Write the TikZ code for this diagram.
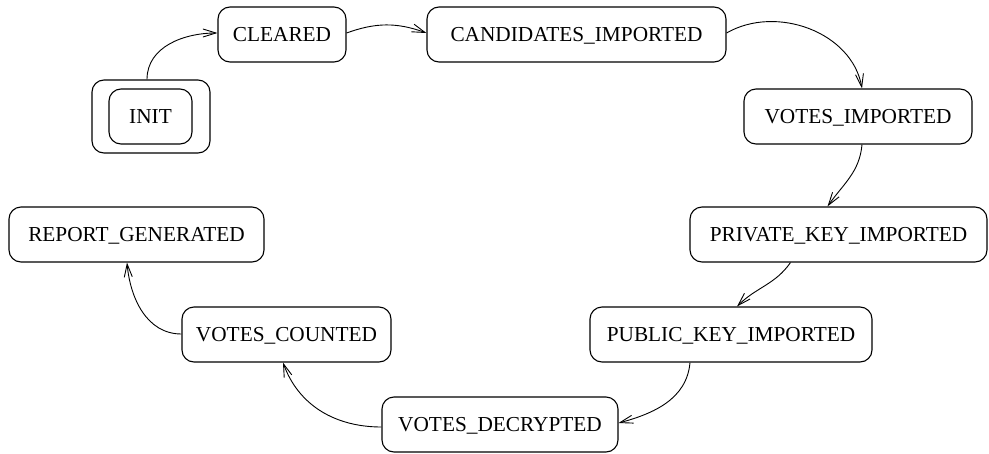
\documentclass[tikz,border=0pt]{standalone}
\usepackage{fontspec}
\setmainfont{Liberation Serif}
\usetikzlibrary{arrows.meta}
\newcommand{\statefont}{\fontsize{21.3}{25}\selectfont}
\tikzset{
  state/.style={draw, rounded corners=12pt, minimum height=55pt, inner sep=0pt,
    line width=1.1pt, font=\statefont, text height=14.2pt, text depth=0pt},
  trans/.style={line width=0.9pt, -{Straight Barb[length=13pt,width=8pt,line width=0.9pt]}}
}
\begin{document}
\begin{tikzpicture}[x=1pt,y=-1pt]
\useasboundingbox (0,0) rectangle (989,453);
\node[state, minimum width=118pt, minimum height=73pt] (initout) at (151,116.5) {};
\node[state, minimum width=83pt] (init) at (150.5,116.5) {INIT};
\node[state, minimum width=128pt] (cleared) at (282,34.5) {CLEARED};
\node[state, minimum width=299pt] (cand) at (576.5,34.5) {CANDIDATES\_IMPORTED};
\node[state, minimum width=228pt] (vimp) at (858,116.5) {VOTES\_IMPORTED};
\node[state, minimum width=297pt] (priv) at (838.5,234.5) {PRIVATE\_KEY\_IMPORTED};
\node[state, minimum width=282pt] (pub) at (731,334.5) {PUBLIC\_KEY\_IMPORTED};
\node[state, minimum width=236pt] (decr) at (500,424.5) {VOTES\_DECRYPTED};
\node[state, minimum width=209pt] (count) at (286.5,334.5) {VOTES\_COUNTED};
\node[state, minimum width=255pt] (report) at (136.5,234.5) {REPORT\_GENERATED};

\draw[trans] ([xshift=-4pt]initout.north) to[out=90,in=180] ([yshift=1.5pt]cleared.west);
\draw[trans] ([yshift=1.5pt]cleared.east) to[out=20,in=160] ([yshift=1.5pt]cand.west);
\draw[trans] ([yshift=1.5pt]cand.east) to[out=30,in=100] ([xshift=4pt]vimp.north);
\draw[trans] ([xshift=4pt]vimp.south) to[out=-95,in=55] ([xshift=-11pt]priv.north);
\draw[trans] ([xshift=-48pt]priv.south) to[out=-125,in=45] ([xshift=6pt]pub.north);
\draw[trans] ([xshift=-41pt]pub.south) to[out=-95,in=15] ([yshift=1.5pt]decr.east);
\draw[trans] ([yshift=-2.5pt]decr.west) to[out=180,in=-70] ([xshift=-3.5pt]count.south);
\draw[trans] ([yshift=0.5pt]count.west) to[out=180,in=-85] ([xshift=-9.5pt]report.south);
\end{tikzpicture}
\end{document}
